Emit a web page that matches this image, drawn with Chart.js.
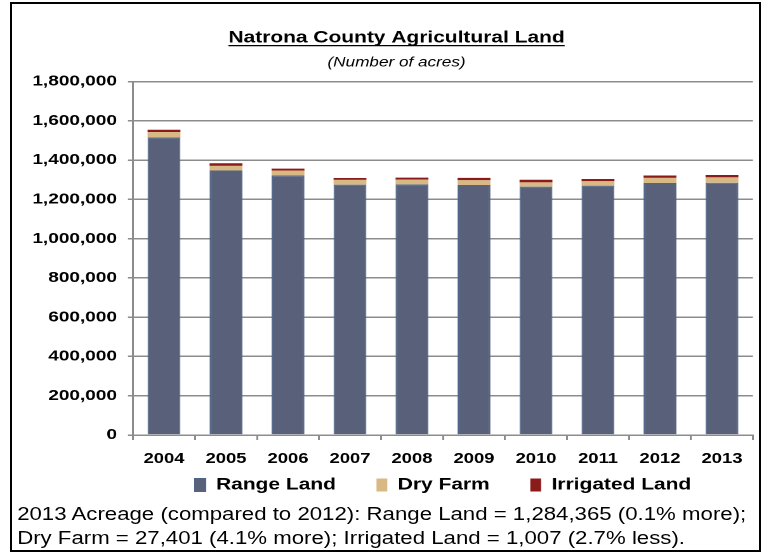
<!DOCTYPE html>
<html>
<head>
<meta charset="utf-8">
<script src="https://cdn.jsdelivr.net/npm/chart.js@4/dist/chart.umd.min.js"></script>
<style>
  body { margin: 0; background: #fff; }
  #frame {
    position: absolute; left: 10px; top: 2px; width: 751px; height: 550px;
    border: 2px solid #000; box-sizing: border-box;
  }
  /* the reference is stretched sideways, so the whole drawing is too */
  #wrap {
    position: absolute; left: 0; top: 0; width: 602px; height: 554px;
    transform: scaleX(1.2691); transform-origin: 0 0;
  }
  #note {
    position: absolute; left: 13.5px; top: 502px; width: 590px;
    font: 17.5px "Liberation Sans", Arial, sans-serif; line-height: 24px; color: #000;
    white-space: nowrap;
  }
</style>
</head>
<body>
<div id="frame"></div>
<div id="wrap">
  <canvas id="chart" width="602" height="554"></canvas>
  <div id="note"></div>
</div>
<script>
const years = ["2004", "2005", "2006", "2007", "2008", "2009", "2010", "2011", "2012", "2013"];
const rangeLand = [1515500, 1346600, 1322500, 1274900, 1276400, 1273300, 1264600, 1269800, 1283082, 1284365];
const dryFarm = [27000, 24000, 24000, 24000, 24000, 24000, 22000, 22000, 26322, 27401];
const irrigatedLand = [12000, 13000, 10000, 10000, 10000, 12000, 13000, 12000, 12000, 12000];
const yMax = 1800000;
const yStep = 200000;
const titleText = "Natrona County Agricultural Land";
const subtitleText = "(Number of acres)";
const noteLines = [
  "2013 Acreage (compared to 2012): Range Land = 1,284,365 (0.1% more);",
  "Dry Farm = 27,401 (4.1% more); Irrigated Land = 1,007 (2.7% less)."
];

document.getElementById("note").innerHTML = noteLines.join("<br>");

const FONT = '"Liberation Sans", Arial, sans-serif';
const GRID = "#8c8c8c";
const TITLE_PAD_TOP = 28;
const TITLE_SHIFT = 6.8;   // title sits a bit right of the padded centre
const LEGEND_GAP = 9.75;   // legend box top, below the plot bottom

Chart.defaults.color = "#000";
Chart.defaults.font.family = FONT;

const tweakLayout = {
  id: "tweakLayout",
  afterLayout(chart) {
    chart.boxes.forEach((b) => {
      if (b.position === "top" && b.options && b.options.text) b.left += TITLE_SHIFT;
    });
    const lg = chart.legend;
    const dy = lg.top - (chart.chartArea.bottom + LEGEND_GAP);
    lg.top -= dy;
    lg.bottom -= dy;
  },
  // Excel-style underline under the title
  afterDraw(chart) {
    const t = chart.titleBlock;
    const f = Chart.helpers.toFont(t.options.font);
    const ctx = chart.ctx;
    ctx.save();
    ctx.font = f.string;
    const w = ctx.measureText(titleText).width;
    const cx = (t.left + t.right) / 2;
    const y = t.top + TITLE_PAD_TOP + f.lineHeight / 2 + f.size * 0.47;
    ctx.strokeStyle = "#000";
    ctx.lineWidth = 1.3;
    ctx.beginPath();
    ctx.moveTo(cx - w / 2, y);
    ctx.lineTo(cx + w / 2, y);
    ctx.stroke();
    ctx.restore();
  }
};

new Chart(document.getElementById("chart"), {
  type: "bar",
  data: {
    labels: years,
    datasets: [
      {
        label: "Range Land", data: rangeLand, backgroundColor: "#586179",
        borderColor: "#4f6689", borderWidth: 1
      },
      { label: "Dry Farm", data: dryFarm, backgroundColor: "#d9b983" },
      { label: "Irrigated Land", data: irrigatedLand, backgroundColor: "#8b1a1a" }
    ]
  },
  options: {
    responsive: false,
    animation: false,
    devicePixelRatio: 2,
    categoryPercentage: 1,
    barPercentage: 0.53,
    layout: { padding: { left: 24.8, right: 8.7, top: 0, bottom: 27.5 } },
    plugins: {
      tooltip: { enabled: false },
      title: {
        display: true,
        text: titleText,
        font: { size: 16.5, weight: "bold" },
        padding: { top: TITLE_PAD_TOP, bottom: 2 }
      },
      subtitle: {
        display: true,
        text: subtitleText,
        font: { size: 13.5, style: "italic" },
        padding: { top: 5, bottom: 10.5 }
      },
      legend: {
        position: "bottom",
        fullSize: false,
        labels: {
          boxWidth: 8.5,
          boxHeight: 13,
          padding: 32,
          font: { size: 16.5, weight: "bold" }
        }
      }
    },
    scales: {
      x: {
        stacked: true,
        grid: { display: true, drawOnChartArea: false, tickLength: 5, color: GRID, lineWidth: 1.5 },
        border: { color: GRID, width: 1.5 },
        ticks: { padding: 10.5, font: { size: 14.5, weight: "bold" } },
        afterFit(scale) { scale.height = 33; }
      },
      y: {
        stacked: true,
        min: 0,
        max: yMax,
        ticks: {
          stepSize: yStep,
          padding: 8.6,
          font: { size: 15, weight: "bold" },
          callback: (v) => v.toLocaleString("en-US")
        },
        grid: { color: GRID, lineWidth: 1.5, tickLength: 4 },
        border: { color: GRID, width: 1.5 },
        afterFit(scale) { scale.width = 80; }
      }
    }
  },
  plugins: [tweakLayout]
});
</script>
</body>
</html>
